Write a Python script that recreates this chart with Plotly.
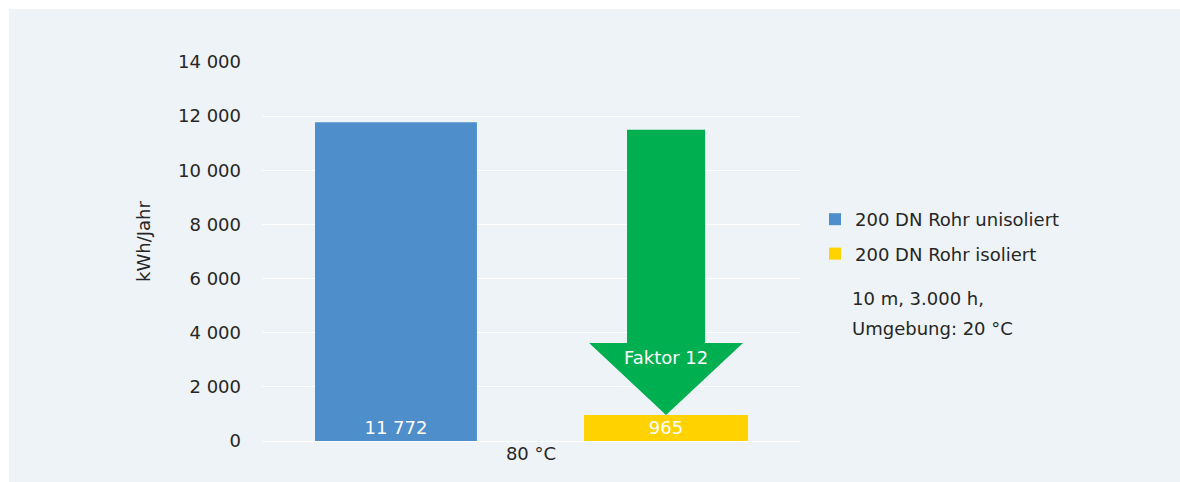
import plotly.graph_objects as go

# ---- data ----
categories = ["80 °C"]
unisoliert = [11772]
isoliert = [965]
series_names = ["200 DN Rohr unisoliert", "200 DN Rohr isoliert"]
y_tickvals = [0, 2000, 4000, 6000, 8000, 10000, 12000, 14000]
y_ticktext = ["0", "2 000", "4 000", "6 000", "8 000", "10 000", "12 000", "14 000"]
note_lines = ["10 m, 3.000 h,", "Umgebung: 20 °C"]
y_title = "kWh/Jahr"

# ---- style ----
FONT = "DejaVu Sans"
FS = 18
TXT = "#262626"
BLUE = "#4E8ECB"
YELLOW = "#FFD200"
GREEN = "#00AF50"
BG = "#EEF3F7"

W, H = 1180, 482
L, R, T, B = 262, 380, 62, 41
pw, ph = W - L - R, H - T - B


def px2paper_x(px):
    return (px - L) / pw


def px2paper_y(py):
    return (H - B - py) / ph


def fmt(v):
    return f"{v:,}".replace(",", " ")


fig = go.Figure()
fig.add_trace(go.Bar(
    x=categories, y=unisoliert, name=series_names[0],
    marker=dict(color=BLUE, line=dict(width=0)),
    width=0.301, offset=-0.4015,
    text=[fmt(v) for v in unisoliert], textposition="inside",
    insidetextanchor="start", constraintext="none",
    textfont=dict(color="white", size=FS, family=FONT),
    legendgroup="a",
))
fig.add_trace(go.Bar(
    x=categories, y=isoliert, name=series_names[1],
    marker=dict(color=YELLOW, line=dict(width=0)),
    width=0.305, offset=0.0985,
    text=[fmt(v) for v in isoliert], textposition="inside",
    insidetextanchor="middle", constraintext="none",
    textfont=dict(color="white", size=FS, family=FONT),
    legendgroup="b",
))

# arrow from unisoliert level down to isoliert level
cx = 0.0985 + 0.305 / 2
shaft_hw, head_hw = 0.0725, 0.143
top_v = 11500
head_v = 3620
tip_v = isoliert[0]
path = (f"M {cx - shaft_hw},{top_v} L {cx + shaft_hw},{top_v} L {cx + shaft_hw},{head_v} "
        f"L {cx + head_hw},{head_v} L {cx},{tip_v} L {cx - head_hw},{head_v} "
        f"L {cx - shaft_hw},{head_v} Z")

shapes = [
    dict(type="rect", xref="paper", yref="paper",
         x0=px2paper_x(9), x1=px2paper_x(1185), y0=px2paper_y(490), y1=px2paper_y(9),
         fillcolor=BG, line=dict(width=0), layer="below"),
    dict(type="path", xref="x", yref="y", path=path, fillcolor=GREEN,
         line=dict(width=0), layer="above"),
]

factor = round(unisoliert[0] / isoliert[0])
annotations = [
    dict(text=f"Faktor {factor}", x=cx, y=3100, xref="x", yref="y",
         xanchor="center", yanchor="middle",
         showarrow=False, font=dict(color="white", size=FS, family=FONT)),
    dict(text=y_title, textangle=-90, x=px2paper_x(143), y=px2paper_y(242),
         xref="paper", yref="paper", xanchor="center", yanchor="middle",
         showarrow=False, font=dict(color=TXT, size=FS, family=FONT)),
    dict(text=note_lines[0], x=px2paper_x(850), y=px2paper_y(298),
         xref="paper", yref="paper", xanchor="left", yanchor="middle",
         showarrow=False, font=dict(color=TXT, size=FS, family=FONT)),
    dict(text=note_lines[1], x=px2paper_x(850), y=px2paper_y(328),
         xref="paper", yref="paper", xanchor="left", yanchor="middle",
         showarrow=False, font=dict(color=TXT, size=FS, family=FONT)),
]

fig.update_layout(
    width=W, height=H,
    margin=dict(l=L, r=R, t=T, b=B, pad=0),
    paper_bgcolor="white", plot_bgcolor="rgba(0,0,0,0)",
    font=dict(family=FONT, size=FS, color=TXT),
    barmode="group",
    showlegend=True,
    legend=dict(x=px2paper_x(815), y=px2paper_y(201), xanchor="left", yanchor="top",
                bgcolor="rgba(0,0,0,0)", font=dict(size=FS, color=TXT, family=FONT),
                traceorder="grouped", tracegroupgap=8),
    xaxis=dict(showgrid=False, showline=False, zeroline=False, ticks="",
               tickfont=dict(size=FS, color=TXT), range=[-0.5, 0.5], fixedrange=True),
    yaxis=dict(range=[0, 14000], tickvals=y_tickvals, ticktext=y_ticktext,
               showgrid=True, gridcolor="white", gridwidth=1.3,
               zeroline=True, zerolinecolor="white", zerolinewidth=1.3,
               showline=False, ticks="", ticklabelstandoff=20,
               tickfont=dict(size=FS, color=TXT)),
    shapes=shapes, annotations=annotations,
)

fig.write_html(
    "out.html",
    config={"displayModeBar": False},
    post_script="document.body.style.margin='0';document.body.style.overflow='hidden';",
)
